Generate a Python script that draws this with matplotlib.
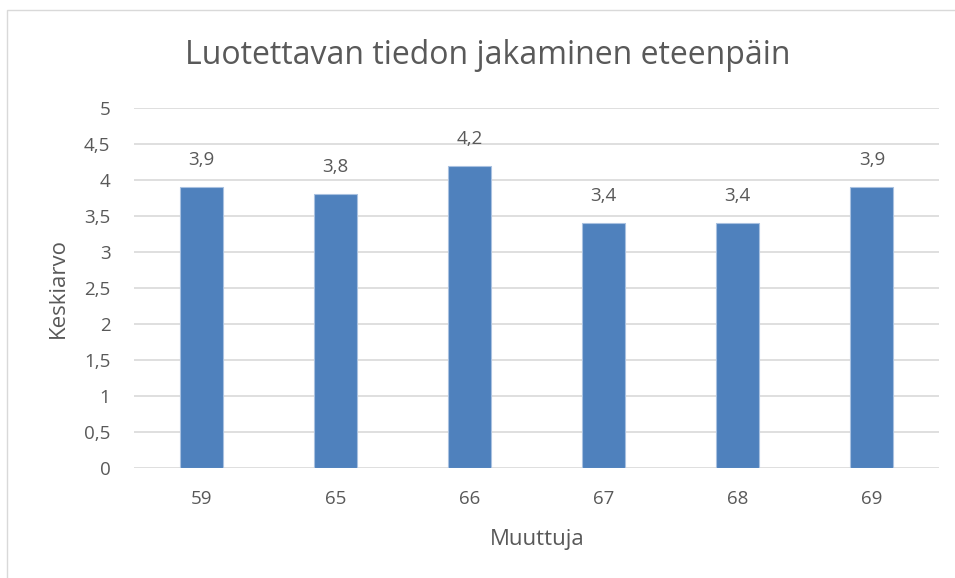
import matplotlib
matplotlib.use("Agg")
import matplotlib.pyplot as plt
from matplotlib.patches import Rectangle

categories = ["59", "65", "66", "67", "68", "69"]
values = [3.9, 3.8, 4.2, 3.4, 3.4, 3.9]
yticks = [0, 0.5, 1, 1.5, 2, 2.5, 3, 3.5, 4, 4.5, 5]

plt.rcParams['font.family'] = ['Open Sans', 'DejaVu Sans']
txt = '#595959'

fig = plt.figure(figsize=(9.55, 5.78), dpi=100)
W, H = 955, 578
ax = fig.add_axes([134 / W, 1 - 468 / H, (939 - 134) / W, (468 - 108) / H])

x = range(len(categories))
bars = ax.bar(x, values, width=0.32, color='#4F81BD', edgecolor='#A9C1E0', linewidth=0.8, zorder=3)
for i, v in enumerate(values):
    ax.text(i, v + 0.375, f"{v:.1f}".replace('.', ','), ha='center', va='center',
            fontsize=13.5, color=txt)

ax.set_xlim(-0.5, len(categories) - 0.5)
ax.set_ylim(0, 5)
ax.set_yticks(yticks)
ax.set_yticklabels([f"{t:g}".replace('.', ',') for t in yticks])
ax.set_xticks(list(x))
ax.set_xticklabels(categories)
ax.tick_params(length=0, labelsize=13.5, labelcolor=txt)
ax.tick_params(axis='x', pad=16)
ax.tick_params(axis='y', pad=17)
ax.grid(axis='y', color='#D9D9D9', linewidth=1.2, zorder=0)
for s in ax.spines.values():
    s.set_visible(False)

fig.text(537 / W, 1 - 540 / H, 'Muuttuja', ha='center', va='center', fontsize=16, color=txt)
fig.text(58 / W, 1 - 288 / H, 'Keskiarvo', ha='center', va='center', rotation=90,
         fontsize=16, color=txt)

fig.text(488 / W, 1 - 55 / H, 'Luotettavan tiedon jakaminen eteenpäin',
         ha='center', va='center', fontsize=23, color=txt)

fig.patches.append(Rectangle((7 / W, -0.1), 1.1, 1 - 10 / H + 0.1, transform=fig.transFigure,
                             fill=False, edgecolor='#D9D9D9', linewidth=1))

fig.savefig('out.png', dpi=100)
